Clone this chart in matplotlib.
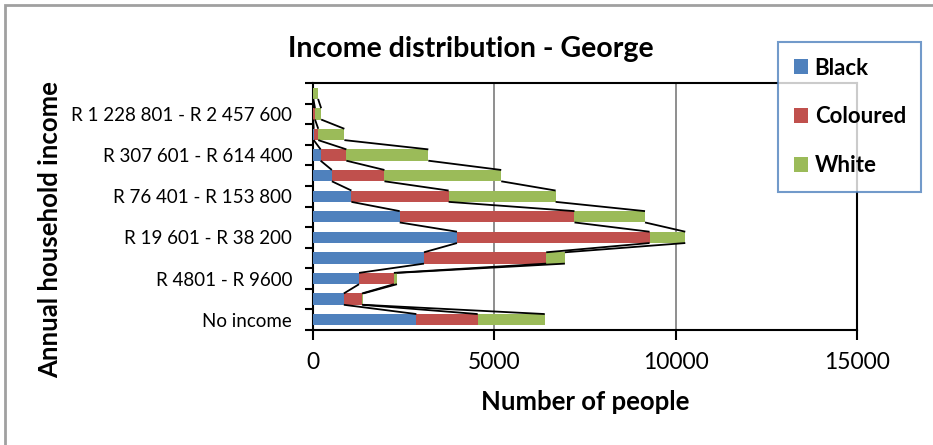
import numpy as np
import matplotlib
matplotlib.use('Agg')
import matplotlib.pyplot as plt
from matplotlib.patches import Patch, Rectangle

plt.rcParams['font.family'] = ['Lato', 'DejaVu Sans']

# ----------------------------------
# Data: households per income band, by population group
# ----------------------------------

income_bands = ['No income', 'R 1 - R 4800', 'R 4801 - R 9600', 'R 9601 - R 19 600',
                'R 19 601 - R 38 200', 'R 38 201 - R 76 400', 'R 76 401 - R 153 800',
                'R 153 801 - R 307 600', 'R 307 601 - R 614 400', 'R 614 401 - R 1 228 800',
                'R 1 228 801 - R 2 457 600', 'R 2 457 601 or more']
black = [2850, 850, 1270, 3060, 3970, 2390, 1060, 520, 210, 20, 5, 5]
coloured = [1690, 500, 960, 3370, 5310, 4820, 2680, 1450, 710, 125, 50, 5]
white = [1850, 35, 85, 515, 985, 1945, 2950, 3220, 2260, 720, 170, 130]
groups = ['Black', 'Coloured', 'White']
colors = ['#4F81BD', '#C0504D', '#9BBB59']
x_ticks = [0, 5000, 10000, 15000]

# ----------------------------------
# Figure and axes
# ----------------------------------

W, H = 933, 445
fig = plt.figure(figsize=(W / 100, H / 100), dpi=100)
ax = fig.add_axes([313 / W, 1 - 330 / H, (857 - 313) / W, (330 - 83) / H])

y = np.arange(len(income_bands))
bar_h = 0.55
left = np.zeros(len(income_bands))
levels = []
for vals, col, name in zip([black, coloured, white], colors, groups):
    vals = np.array(vals, dtype=float)
    ax.barh(y, vals, left=left, height=bar_h, color=col, label=name, zorder=3)
    left = left + vals
    levels.append(left.copy())

# series lines joining each stack level between neighbouring bars
for lv in levels:
    for i in range(len(y) - 1):
        ax.plot([lv[i], lv[i + 1]], [y[i] + bar_h / 2, y[i + 1] - bar_h / 2],
                color='black', lw=1.3, zorder=4, solid_capstyle='butt')

ax.set_xlim(0, 15000)
ax.set_ylim(-0.5, len(income_bands) - 0.5)
ax.set_xticks(x_ticks)
ax.set_xticklabels([str(t) for t in x_ticks], fontsize=16.5)
ax.tick_params(axis='x', direction='out', length=7, width=1.5, pad=9)
ax.grid(axis='x', color='#868686', lw=1.3, zorder=0)

# category boundaries as ticks, every other band labelled
ax.set_yticks(np.arange(-0.5, len(income_bands), 1))
ax.set_yticklabels([])
ax.tick_params(axis='y', which='major', direction='out', length=6, width=1.5)
lab_idx = y[::2]
ax.set_yticks(lab_idx, minor=True)
ax.set_yticklabels([income_bands[i] for i in lab_idx], minor=True, fontsize=13.5)
ax.tick_params(axis='y', which='minor', length=0, pad=15)

for s in ax.spines.values():
    s.set_linewidth(1.5)
    s.set_color('black')

ax.set_xlabel('Number of people', fontsize=18.5, fontweight='bold', labelpad=12)
fig.text(50 / W, 1 - 230 / H, 'Annual household income', rotation=90,
         fontsize=18.5, fontweight='bold', ha='center', va='center')
fig.text(471 / W, 1 - 57 / H, 'Income distribution - George',
         fontsize=20.5, fontweight='bold', ha='center', va='baseline')

# legend box
handles = [Patch(facecolor=c, edgecolor='none') for c in colors]
leg = fig.legend(handles, groups, loc='upper left',
                 bbox_to_anchor=(778 / W, 1 - 42 / H), bbox_transform=fig.transFigure,
                 prop={'size': 16, 'weight': 'bold'}, frameon=True, fancybox=False,
                 handlelength=0.65, handleheight=0.65, handletextpad=0.3,
                 labelspacing=1.25, borderpad=0.7, borderaxespad=0)
leg.get_frame().set_edgecolor('#4F81BD')
leg.get_frame().set_linewidth(1.5)

# chart area border
fig.patches.append(Rectangle((4.5 / W, -0.1), 1.2, 1.1 - 5.5 / H, transform=fig.transFigure,
                             fill=False, edgecolor='#a0a0a0', lw=2))

fig.savefig('out.png', dpi=100)
